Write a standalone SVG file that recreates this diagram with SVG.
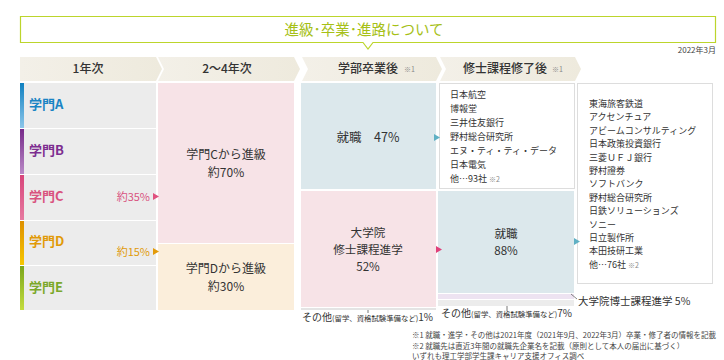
<svg xmlns="http://www.w3.org/2000/svg" width="724" height="360" viewBox="0 0 724 360">
<defs>
<linearGradient id="hdr" x1="0" y1="0" x2="1" y2="0"><stop offset="0" stop-color="#f3f0e8"/><stop offset="1" stop-color="#eeeadd"/></linearGradient>
<linearGradient id="gA" x1="0" y1="0" x2="0" y2="1"><stop offset="0" stop-color="#0f80c0"/><stop offset="1" stop-color="#8cc6ea"/></linearGradient>
<linearGradient id="gB" x1="0" y1="0" x2="0" y2="1"><stop offset="0" stop-color="#772a8a"/><stop offset="1" stop-color="#b98ac6"/></linearGradient>
<linearGradient id="gC" x1="0" y1="0" x2="0" y2="1"><stop offset="0" stop-color="#d8457a"/><stop offset="1" stop-color="#e67aa0"/></linearGradient>
<linearGradient id="gD" x1="0" y1="0" x2="0" y2="1"><stop offset="0" stop-color="#de9000"/><stop offset="1" stop-color="#f6c600"/></linearGradient>
<linearGradient id="gE" x1="0" y1="0" x2="0" y2="1"><stop offset="0" stop-color="#7ba61c"/><stop offset="1" stop-color="#c4dc3e"/></linearGradient>
</defs>
<style>
text{font-family:"Noto Sans CJK JP","Noto Sans",sans-serif;fill:#333}
.t{font-size:14.5px;fill:#a6c016;text-anchor:middle}
.h{font-size:12px;text-anchor:middle;font-weight:500}
.n{font-size:12px;text-anchor:middle}
.big{font-size:12.5px;text-anchor:middle}
.mid{font-size:11.6px;text-anchor:middle}
.lab{font-size:13px;font-weight:bold}
.li{font-size:9px}
.s{font-size:7px;fill:#888}
.fn{font-size:7.5px;fill:#444}
.o{font-size:10px}
.os{font-size:7.4px}
.gray{fill:#ececec}
.pink{fill:#f7e3e7}
.blue{fill:#dce8ec}
.beige{fill:#fbeedb}
.box{fill:#fff;stroke:#dddddd;stroke-width:1}
</style>
<rect width="724" height="360" fill="#fff"/>
<g id="title">
<path d="M20.5,16.5 H715.5 V42.5 H373 L368,49 L363,42.5 H20.5 Z" fill="#fff" stroke="#bcd52c" stroke-width="1.2"/>
<text class="t" x="364" y="35">進級･卒業･進路について</text>
</g>
<text x="716" y="53" style="font-size:8px;text-anchor:end;fill:#444">2022年3月</text>
<g id="headers">
<path d="M20,57 H156 L162,69 L156,81 H20 Z" fill="url(#hdr)"/>
<path d="M158,57 H294 L300,69 L294,81 H158 L164,69 Z" fill="url(#hdr)"/>
<path d="M302,57 H436 L442,69 L436,81 H302 L308,69 Z" fill="url(#hdr)"/>
<path d="M440,57 H575 L581,69 L575,81 H440 L446,69 Z" fill="url(#hdr)"/>
<text class="h" x="88" y="73">1年次</text>
<text class="h" x="227" y="73">2～4年次</text>
<text class="h" x="368" y="73">学部卒業後</text><text class="s" x="404" y="72">※1</text>
<text class="h" x="505" y="73">修士課程修了後</text><text class="s" x="552" y="72">※1</text>
</g>
<g id="year1">
<rect class="gray" x="20" y="83" width="136" height="45"/>
<rect class="gray" x="20" y="129" width="136" height="45"/>
<rect class="gray" x="20" y="175" width="136" height="45"/>
<rect class="gray" x="20" y="221" width="136" height="44"/>
<rect class="gray" x="20" y="266" width="136" height="44"/>
<rect x="20" y="83" width="4" height="45" fill="url(#gA)"/>
<rect x="20" y="129" width="4" height="45" fill="url(#gB)"/>
<rect x="20" y="175" width="4" height="45" fill="url(#gC)"/>
<rect x="20" y="221" width="4" height="44" fill="url(#gD)"/>
<rect x="20" y="266" width="4" height="44" fill="url(#gE)"/>
<text class="lab" x="29" y="109" style="fill:#1a84c4">学門A</text>
<text class="lab" x="29" y="155" style="fill:#7d2e90">学門B</text>
<text class="lab" x="29" y="201" style="fill:#d9537f">学門C</text>
<text class="lab" x="29" y="246" style="fill:#e19a08">学門D</text>
<text class="lab" x="29" y="292" style="fill:#7ba82a">学門E</text>
<text x="150" y="201" style="font-size:11px;fill:#d9537f;text-anchor:end">約35%</text>
<text x="150" y="256" style="font-size:11px;fill:#e19a08;text-anchor:end">約15%</text>
</g>
<g id="year2">
<rect class="pink" x="158" y="83" width="136" height="160"/>
<rect class="beige" x="158" y="244" width="136" height="66"/>
<text class="n" x="226" y="159">学門Cから進級</text>
<text class="n" x="226" y="177">約70%</text>
<text class="n" x="226" y="273">学門Dから進級</text>
<text class="n" x="226" y="291">約30%</text>
</g>
<g id="undergrad">
<rect class="blue" x="301" y="83" width="135" height="106"/>
<text class="big" x="368" y="142">就職　47%</text>
<rect class="pink" x="301" y="191" width="135" height="116"/>
<text class="mid" x="368" y="237">大学院</text>
<text class="mid" x="368" y="254">修士課程進学</text>
<text class="mid" x="368" y="271">52%</text>
<rect x="301" y="308" width="135" height="2" fill="#e4e4e4"/>
<line x1="368" y1="310" x2="368" y2="313" stroke="#555" stroke-width="0.8"/>
<text x="302" y="321"><tspan class="o">その他</tspan><tspan class="os">(留学、資格試験準備など)</tspan><tspan class="o">1%</tspan></text>
</g>
<g id="jobs1">
<rect class="box" x="439.5" y="83.5" width="135" height="105"/>
<text class="li" x="450" y="98">日本航空</text>
<text class="li" x="450" y="112">博報堂</text>
<text class="li" x="450" y="126">三井住友銀行</text>
<text class="li" x="450" y="140">野村総合研究所</text>
<text class="li" x="450" y="154">エヌ・ティ・ティ・データ</text>
<text class="li" x="450" y="168">日本電気</text>
<text class="li" x="450" y="182">他…93社 <tspan class="s">※2</tspan></text>
</g>
<g id="master">
<rect class="blue" x="438" y="191" width="136" height="102"/>
<text class="mid" x="506" y="238">就職</text>
<text class="mid" x="506" y="255">88%</text>
<rect x="438" y="294" width="136" height="5" fill="#ede3f1"/>
<rect x="438" y="300" width="136" height="6" fill="#ececec"/>
<line x1="507" y1="306" x2="507" y2="311" stroke="#555" stroke-width="0.8"/>
<text x="441" y="317"><tspan class="o">その他</tspan><tspan class="os">(留学、資格試験準備など)</tspan><tspan class="o">7%</tspan></text>
<line x1="571" y1="294" x2="577" y2="299" stroke="#555" stroke-width="0.7"/>
<text x="578" y="305" style="font-size:10.5px">大学院博士課程進学  5%</text>
</g>
<g id="jobs2">
<rect class="box" x="577.5" y="83.5" width="135" height="200"/>
<text class="li" x="589" y="107">東海旅客鉄道</text>
<text class="li" x="589" y="120.4">アクセンチュア</text>
<text class="li" x="589" y="133.8">アビームコンサルティング</text>
<text class="li" x="589" y="147.2">日本政策投資銀行</text>
<text class="li" x="589" y="160.6">三菱ＵＦＪ銀行</text>
<text class="li" x="589" y="174">野村證券</text>
<text class="li" x="589" y="187.4">ソフトバンク</text>
<text class="li" x="589" y="200.8">野村総合研究所</text>
<text class="li" x="589" y="214.2">日鉄ソリューションズ</text>
<text class="li" x="589" y="227.6">ソニー</text>
<text class="li" x="589" y="241">日立製作所</text>
<text class="li" x="589" y="254.4">本田技研工業</text>
<text class="li" x="589" y="267.8">他…76社 <tspan class="s">※2</tspan></text>
</g>
<g id="connectors">
<path d="M153,193 L159,196.5 L153,200 Z" fill="#e0527f"/>
<path d="M153,248 L159,251.5 L153,255 Z" fill="#e39a08"/>
<path d="M434,134 L440,137.5 L434,141 Z" fill="#5fb0c4"/>
<path d="M436,246 L442,249.5 L436,253 Z" fill="#e0407a"/>
<path d="M574,238 L580,241.5 L574,245 Z" fill="#5fb0c4"/>
</g>
<g id="footnotes">
<text class="fn" x="412" y="338">※1 就職・進学・その他は2021年度（2021年9月、2022年3月）卒業・修了者の情報を記載</text>
<text class="fn" x="412" y="348.5">※2 就職先は直近3年間の就職先企業名を記載（原則として本人の届出に基づく）</text>
<text class="fn" x="412" y="359">いずれも理工学部学生課キャリア支援オフィス調べ</text>
</g>
</svg>
